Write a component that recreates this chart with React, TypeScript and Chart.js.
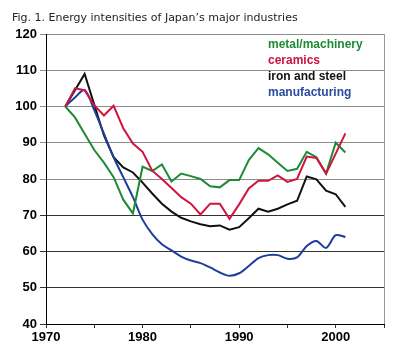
import React, { useEffect, useRef } from "react";
import { Chart, registerables } from "chart.js";

Chart.register(...registerables);

const TITLE = "Fig. 1. Energy intensities of Japan\u2019s major industries";
const years = [1972, 1973, 1974, 1975, 1976, 1977, 1978, 1979, 1980, 1981, 1982, 1983, 1984, 1985, 1986, 1987, 1988, 1989, 1990, 1991, 1992, 1993, 1994, 1995, 1996, 1997, 1998, 1999, 2000, 2001];
const metalMachinery = [100, 97, 92.5, 88, 84.5, 80.5, 74.3, 70.5, 83.4, 82.2, 84, 79.3, 81.5, 80.8, 80, 78, 77.7, 79.7, 79.7, 85.2, 88.5, 86.8, 84.5, 82.2, 82.8, 87.5, 86, 81.5, 90, 87.3];
const ceramics = [100, 105, 104.5, 100.3, 97.5, 100.2, 94, 89.8, 87.5, 82.3, 80, 77.5, 75, 73.2, 70.2, 73.2, 73.2, 69, 73, 77.4, 79.5, 79.5, 81, 79.2, 80, 86.2, 85.8, 81.5, 87, 92.6];
const ironSteel = [100, 104.5, 109, 100.5, 92, 86, 83.2, 81.8, 79, 76, 73.2, 71, 69.3, 68.3, 67.5, 67, 67.2, 66, 66.7, 69.2, 71.8, 71, 71.8, 73, 74, 80.7, 79.9, 76.8, 75.8, 72.3];
const manufacturing = [100, 102.5, 104.5, 99, 92.5, 86, 80.5, 75, 68.8, 64.8, 62, 60.3, 58.6, 57.5, 56.8, 55.6, 54.2, 53.3, 54, 56, 58.2, 59, 59, 58, 58.4, 61.5, 62.9, 61, 64.5, 64];
const seriesNames = ["metal/machinery", "ceramics", "iron and steel", "manufacturing"];
const lineColors = ["#1f8a34", "#d0143f", "#111111", "#1d3f9c"];
const legendColors = ["#1f8a34", "#cc1144", "#111111", "#2a4c9e"];
const xTickLabels = [1970, 1980, 1990, 2000];

const pts = (vals: number[]) => vals.map((v, i) => ({ x: years[i], y: v }));

export default function App() {
  const ref = useRef<HTMLCanvasElement | null>(null);
  useEffect(() => {
    if (!ref.current) return;
    const overlay = {
      id: "overlay",
      afterDraw(chart: any) {
        const ctx = chart.ctx;
        const a = chart.chartArea;
        ctx.save();
        ctx.strokeStyle = "#999";
        ctx.lineWidth = 1;
        ctx.beginPath();
        ctx.moveTo(Math.round(a.right) + 0.5, a.top);
        ctx.lineTo(Math.round(a.right) + 0.5, a.bottom);
        ctx.stroke();
        ctx.fillStyle = "#222";
        ctx.font = "11px 'DejaVu Sans'";
        ctx.textBaseline = "alphabetic";
        ctx.textAlign = "left";
        ctx.fillText(TITLE, 12, 20.5);
        ctx.font = "bold 12px 'Liberation Sans', Arial";
        const base = [48, 64, 80, 95.5];
        seriesNames.forEach((n, i) => {
          ctx.fillStyle = legendColors[i];
          ctx.fillText(n, 268, base[i]);
        });
        ctx.restore();
      },
    };
    const mk = (label: string, data: number[], idx: number, tension = 0) => ({
      label,
      data: pts(data),
      borderColor: lineColors[idx],
      backgroundColor: lineColors[idx],
      borderWidth: 2,
      pointRadius: 0,
      tension,
      fill: false,
    });
    const chart = new Chart(ref.current, {
      type: "line",
      data: {
        datasets: [
          mk(seriesNames[1], ceramics, 1),
          mk(seriesNames[0], metalMachinery, 0),
          mk(seriesNames[3], manufacturing, 3, 0.3),
          mk(seriesNames[2], ironSteel, 2),
        ],
      },
      options: {
        animation: false,
        responsive: false,
        maintainAspectRatio: false,
        layout: { padding: { top: 34, right: 16, left: 0, bottom: 0 } },
        plugins: { legend: { display: false }, tooltip: { enabled: false }, title: { display: false } },
        scales: {
          x: {
            type: "linear",
            min: 1970,
            max: 2005,
            afterFit: (s: any) => { s.height = 30; },
            ticks: {
              stepSize: 5,
              autoSkip: false,
              maxRotation: 0,
              padding: 2,
              color: "#000",
              font: { family: "'Liberation Sans', Arial", size: 13, weight: "bold" },
              callback: (v: any) => (xTickLabels.includes(Number(v)) ? String(v) : ""),
            },
            grid: { drawOnChartArea: false, tickLength: 4, color: "#333" },
            border: { display: true, color: "#000", width: 1 },
          },
          y: {
            min: 40,
            max: 120,
            afterFit: (s: any) => { s.width = 46; },
            ticks: {
              stepSize: 10,
              padding: 3,
              color: "#000",
              font: { family: "'Liberation Sans', Arial", size: 13, weight: "bold" },
            },
            grid: {
              tickLength: 6,
              color: (c: any) => (c.tick && c.tick.value <= 70 ? "#333" : "#8c8c8c"),
              lineWidth: 1,
            },
            border: { display: true, color: "#000", width: 1 },
          },
        },
      },
      plugins: [overlay],
    } as any);
    return () => chart.destroy();
  }, []);
  return (
    <div style={{ position: "absolute", left: 0, top: 0, width: 400, height: 354, background: "#fff" }}>
      <canvas ref={ref} width={400} height={354} style={{ width: 400, height: 354, display: "block" }} />
    </div>
  );
}
